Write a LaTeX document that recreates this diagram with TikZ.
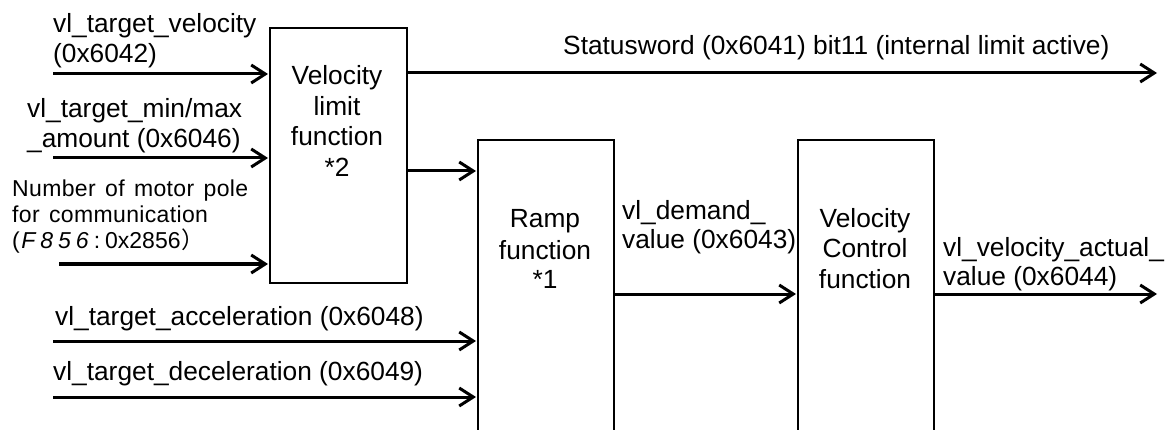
\documentclass[tikz,border=0pt]{standalone}
\usepackage{fontspec}
\setmainfont{Liberation Sans}
\newfontfamily\cjk{Noto Sans CJK JP}
\newfontfamily\smallfont[LetterSpace=1.5,WordSpace=1.4]{Liberation Sans}
\usetikzlibrary{arrows.meta}
\begin{document}
\begin{tikzpicture}[x=1pt,y=-1pt,
  lbl/.style={inner sep=0pt, anchor=base west, font=\fontsize{26.3}{30}\selectfont},
  sml/.style={inner sep=0pt, anchor=base west, font=\smallfont\fontsize{23}{25}\selectfont},
  ctr/.style={inner sep=0pt, anchor=base, font=\fontsize{26.3}{30}\selectfont},
  blk/.style={draw, line width=2pt, inner sep=0pt, anchor=north west},
  arr/.style={line width=3pt, -{Straight Barb[length=14pt,width=18pt]}, shorten >=1pt}]
\useasboundingbox (0,0) rectangle (1169,430);
\clip (0,0) rectangle (1169,430);
% blocks
\node[blk, minimum width=137pt, minimum height=255pt] (vl) at (269,27) {};
\node[blk, minimum width=136pt, minimum height=330pt] (ramp) at (477,139) {};
\node[blk, minimum width=136pt, minimum height=330pt] (vc) at (797,139) {};
% block texts
\node[ctr] (vl1) at (337,85) {Velocity};
\node[ctr] (vl2) at (337,116) {limit};
\node[ctr] (vl3) at (337,146) {function};
\node[ctr] (vl4) at (337,177) {*2};
\node[ctr] (rp1) at (545,228) {Ramp};
\node[ctr] (rp2) at (545,259) {function};
\node[ctr] (rp3) at (545,288) {*1};
\node[ctr] (vc1) at (865,228) {Velocity};
\node[ctr] (vc2) at (865,258) {Control};
\node[ctr] (vc3) at (865,288) {function};
% input labels
\node[lbl] (ta) at (53,33) {vl\_target\_velocity};
\node[lbl] (tb) at (53,63) {(0x6042)};
\node[lbl] (tc) at (27,118) {vl\_target\_min/max};
\node[lbl] (td) at (27,148) {\_amount (0x6046)};
\node[sml] (te) at (12,197) {Number of motor pole};
\node[sml] (tf) at (12,223) {for communication};
\node[inner sep=0pt, anchor=base west, font=\fontsize{23}{25}\selectfont] (tg) at (12,248)
  {(\hspace{1.5pt}{\itshape F\hspace{5pt}8\hspace{5pt}5\hspace{5pt}6}\hspace{5pt}:\hspace{5pt}0x2856\hspace{1pt}{\cjk ）}};
\node[lbl] (th) at (55,325) {vl\_target\_acceleration (0x6048)};
\node[lbl] (ti) at (53,380) {vl\_target\_deceleration (0x6049)};
\node[lbl] (tj) at (563,55) {Statusword (0x6041) bit11 (internal limit active)};
\node[lbl] (tk) at (622,220) {vl\_demand\_};
\node[lbl] (tl) at (622,249) {value (0x6043)};
\node[lbl] (tm) at (943,257) {vl\_velocity\_actual\_};
\node[lbl] (tn) at (943,285) {value (0x6044)};
% connector end points
\coordinate (i1) at (53,74);
\coordinate (i2) at (53,158);
\coordinate (i3) at (59,264);
\coordinate (i4) at (53,341);
\coordinate (i5) at (53,397);
\coordinate (o1) at (1158,73);
\coordinate (y2) at (0,171);
\coordinate (y3) at (0,294);
\coordinate (o2) at (1158,294);
% connectors
\draw[arr] (i1) -- (i1 -| vl.west);
\draw[arr] (i2) -- (i2 -| vl.west);
\draw[arr] (i3) -- (i3 -| vl.west);
\draw[arr] (o1 -| vl.east) -- (o1);
\draw[arr] (y2 -| vl.east) -- (y2 -| ramp.west);
\draw[arr] (i4) -- (i4 -| ramp.west);
\draw[arr] (i5) -- (i5 -| ramp.west);
\draw[arr] (y3 -| ramp.east) -- (y3 -| vc.west);
\draw[arr] (o2 -| vc.east) -- (o2);
\end{tikzpicture}
\end{document}
